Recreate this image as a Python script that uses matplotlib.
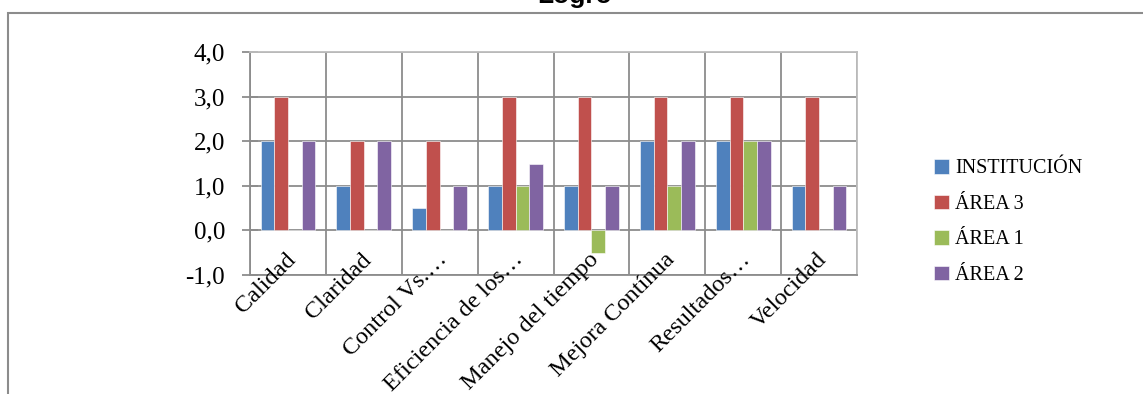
import matplotlib
matplotlib.use("Agg")
import matplotlib.pyplot as plt
import numpy as np
from matplotlib.ticker import FuncFormatter, MultipleLocator
from matplotlib.patches import Rectangle

# Logro por competencia
categorias = ["Calidad", "Claridad", "Control Vs.…", "Eficiencia de los…",
              "Manejo del tiempo", "Mejora Contínua", "Resultados…", "Velocidad"]
series = ["INSTITUCIÓN", "ÁREA 3", "ÁREA 1", "ÁREA 2"]
institucion = [2, 1, 0.5, 1, 1, 2, 2, 1]
area3 = [3, 2, 2, 3, 3, 3, 3, 3]
area1 = [0, 0, 0, 1, -0.5, 1, 2, 0]
area2 = [2, 2, 1, 1.5, 1, 2, 2, 1]
colores = ["#4F81BD", "#C0504D", "#9BBB59", "#8064A2"]

SERIF = "Liberation Serif"
GRIS = "#8c8c8c"

fig = plt.figure(figsize=(11.43, 3.94), dpi=100)
ax = fig.add_axes([250 / 1143, 1 - 275 / 394, 607 / 1143, 223 / 394])

x = np.arange(len(categorias))
ancho = 0.18
margen = 0.14
for k, (valores, nombre, color) in enumerate(zip([institucion, area3, area1, area2], series, colores)):
    ax.bar(x + margen + ancho * (k + 0.5), valores, ancho, color=color, label=nombre,
           edgecolor="white", linewidth=0.4, zorder=3)

ax.set_xlim(0, len(categorias))
ax.set_ylim(-1, 4)
ax.yaxis.set_major_locator(MultipleLocator(1))
ax.yaxis.set_major_formatter(FuncFormatter(lambda v, p: f"{v:.1f}".replace(".", ",")))
ax.set_xticks(np.arange(len(categorias) + 1))
ax.set_xticklabels([])
ax.grid(True, color=GRIS, linewidth=1.3)
ax.set_axisbelow(True)
ax.tick_params(axis="x", length=0)
ax.tick_params(axis="y", direction="inout", length=12, width=1.3, color=GRIS,
               pad=12, labelsize=18)
for lbl in ax.get_yticklabels():
    lbl.set_fontfamily(SERIF)
for lado in ["left", "bottom"]:
    ax.spines[lado].set_color(GRIS)
    ax.spines[lado].set_linewidth(1.3)
for lado in ["top", "right"]:
    ax.spines[lado].set_color("#bdbdbd")
    ax.spines[lado].set_linewidth(1.3)

# etiquetas de categoría inclinadas
for i, nombre in enumerate(categorias):
    ax.text(i + 0.46, -0.42, nombre, rotation=45, ha="right", va="top",
            rotation_mode="anchor", fontsize=17.5, family=SERIF, clip_on=False)

ax.legend(loc="center left", bbox_to_anchor=(916 / 1143, 1 - 222 / 394),
          bbox_transform=fig.transFigure, frameon=False, prop={"family": SERIF, "size": 14.5},
          handlelength=0.75, handleheight=0.75, handletextpad=0.3, labelspacing=0.8)

fig.text(575 / 1143, 1 - 3 / 394, "Logro", ha="center", va="baseline",
         fontsize=19, fontweight="bold", family="Liberation Sans")

# marco exterior del gráfico
fig.add_artist(Rectangle((7.5 / 1143, -0.2), 1.2, 1 - 13 / 394 + 0.2,
                         transform=fig.transFigure, fill=False, edgecolor=GRIS, linewidth=1.5))

fig.savefig("out.png", dpi=100)
